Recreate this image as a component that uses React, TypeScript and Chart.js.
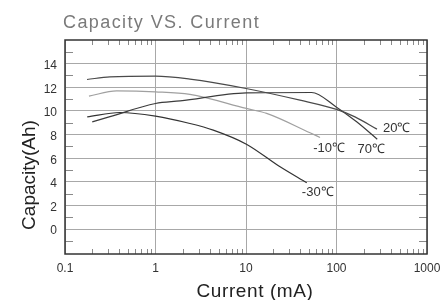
import React, { useEffect, useRef } from "react";
import { Chart, registerables } from "chart.js";

Chart.register(...registerables);

// ---- data ----
const current20 = [0.175, 0.314, 1.0, 2.4, 10, 39.5, 100, 160, 280];
const capacity20 = [12.66, 12.88, 12.94, 12.69, 11.9, 10.91, 10.13, 9.5, 8.46];

const current70 = [0.2, 0.314, 1.0, 1.87, 10.1, 53, 100, 167, 282];
const capacity70 = [9.08, 9.52, 10.63, 10.85, 11.53, 11.56, 10.32, 9.08, 7.61];

const currentM10 = [0.184, 0.372, 1.0, 2.4, 10.1, 16.9, 51, 65.8];
const capacityM10 = [11.25, 11.7, 11.62, 11.4, 10.21, 9.79, 8.15, 7.76];

const currentM30 = [0.176, 0.405, 1.0, 2.4, 4.35, 10.1, 23.8, 46.9];
const capacityM30 = [9.5, 9.87, 9.56, 8.94, 8.38, 7.19, 5.27, 3.92];

const seriesNames = ["20℃", "70℃", "-10℃", "-30℃"];
const xTickValues = [0.1, 1, 10, 100, 1000];
const xTickLabels = ["0.1", "1", "10", "100", "1000"];
const yTickValues = [0, 2, 4, 6, 8, 10, 12, 14];
const yMinorValues = [-1, 1, 3, 5, 7, 9, 11, 13, 15];

const titleText = "Capacity VS. Current";
const xTitle = "Current (mA)";
const yTitle = "Capacity(Ah)";

const FONT = "'Liberation Sans', Arial, Helvetica, sans-serif";

function pts(xs: number[], ys: number[]) {
  return xs.map((x, i) => ({ x, y: ys[i] }));
}

export default function App() {
  const ref = useRef<HTMLCanvasElement | null>(null);

  useEffect(() => {
    if (!ref.current) return;
    const labelStyle = [
      { dx: 6, dy: -1, align: "left" },
      { dx: -6, dy: 10, align: "center" },
      { dx: 9, dy: 11, align: "center" },
      { dx: 11, dy: 10, align: "center" },
    ];

    const decor = {
      id: "decor",
      afterDraw(chart: any) {
        const ctx = chart.ctx;
        const { left, right, top, bottom } = chart.chartArea;
        const xs = chart.scales.x;
        const ys = chart.scales.y;
        ctx.save();
        // minor ticks on top/bottom (log)
        ctx.strokeStyle = "#8a8a8a";
        ctx.lineWidth = 1;
        for (let k = -1; k < 3; k++) {
          for (let m = 2; m <= 9; m++) {
            const v = m * Math.pow(10, k);
            const px = Math.round(xs.getPixelForValue(v)) + 0.5;
            ctx.beginPath();
            ctx.moveTo(px, top);
            ctx.lineTo(px, top + 5);
            ctx.moveTo(px, bottom);
            ctx.lineTo(px, bottom - 5);
            ctx.stroke();
          }
        }
        // minor ticks left/right
        yMinorValues.forEach((v) => {
          const py = Math.round(ys.getPixelForValue(v)) + 0.5;
          ctx.beginPath();
          ctx.moveTo(left, py);
          ctx.lineTo(left + 8, py);
          ctx.moveTo(right, py);
          ctx.lineTo(right - 8, py);
          ctx.stroke();
        });
        // frame
        ctx.strokeStyle = "#333333";
        ctx.lineWidth = 1.5;
        ctx.strokeRect(left, top, right - left, bottom - top);

        // tick labels
        ctx.fillStyle = "#333333";
        ctx.font = `12px ${FONT}`;
        ctx.textAlign = "center";
        ctx.textBaseline = "middle";
        xTickValues.forEach((v, i) => {
          ctx.fillText(xTickLabels[i], xs.getPixelForValue(v), bottom + 15);
        });
        ctx.textAlign = "right";
        yTickValues.forEach((v) => {
          ctx.fillText(String(v), left - 8, ys.getPixelForValue(v) + 2);
        });

        // titles
        ctx.fillStyle = "#7a7a7a";
        ctx.font = `18px ${FONT}`;
        ctx.textAlign = "left";
        ctx.textBaseline = "alphabetic";
        (ctx as any).letterSpacing = "1.4px";
        ctx.fillText(titleText, left - 2, 28);
        (ctx as any).letterSpacing = "0.6px";

        ctx.fillStyle = "#222222";
        ctx.font = `19px ${FONT}`;
        ctx.textAlign = "center";
        ctx.fillText(xTitle, (left + right) / 2 + 9, 297);
        (ctx as any).letterSpacing = "0px";

        ctx.save();
        ctx.translate(35, 175);
        ctx.rotate(-Math.PI / 2);
        ctx.textAlign = "center";
        ctx.textBaseline = "alphabetic";
        ctx.fillText(yTitle, 0, 0);
        ctx.restore();

        // curve labels
        ctx.fillStyle = "#333333";
        ctx.font = `13px ${FONT}`;
        ctx.textBaseline = "middle";
        chart.data.datasets.forEach((ds: any, i: number) => {
          const last = ds.data[ds.data.length - 1];
          const px = xs.getPixelForValue(last.x);
          const py = ys.getPixelForValue(last.y);
          const st = labelStyle[i];
          ctx.textAlign = st.align;
          ctx.fillText(seriesNames[i], px + st.dx, py + st.dy);
        });
        ctx.restore();
      },
    };

    const mk = (label: string, data: any[], color: string) => ({
      label,
      data,
      borderColor: color,
      borderWidth: 1.2,
      pointRadius: 0,
      fill: false,
      cubicInterpolationMode: "monotone" as const,
    });

    const chart = new Chart(ref.current, {
      type: "line",
      data: {
        datasets: [
          mk(seriesNames[0], pts(current20, capacity20), "#4a4a4a"),
          mk(seriesNames[1], pts(current70, capacity70), "#3c3c3c"),
          mk(seriesNames[2], pts(currentM10, capacityM10), "#a0a0a0"),
          mk(seriesNames[3], pts(currentM30, capacityM30), "#333333"),
        ],
      },
      options: {
        animation: false,
        responsive: false,
        layout: { padding: { left: 65, top: 40, right: 21, bottom: 46 } },
        plugins: { legend: { display: false }, tooltip: { enabled: false } },
        scales: {
          x: {
            type: "logarithmic",
            min: 0.1,
            max: 1000,
            afterBuildTicks: (s: any) => {
              s.ticks = xTickValues.map((v) => ({ value: v }));
            },
            afterFit: (s: any) => {
              s.height = 0;
            },
            ticks: { display: false },
            grid: { color: "#a8a8a8", lineWidth: 1, drawTicks: false },
            border: { display: false },
          },
          y: {
            type: "linear",
            min: -2.1,
            max: 16,
            afterBuildTicks: (s: any) => {
              s.ticks = yTickValues.map((v) => ({ value: v }));
            },
            afterFit: (s: any) => {
              s.width = 0;
            },
            ticks: { display: false },
            grid: { color: "#a8a8a8", lineWidth: 1, drawTicks: false },
            border: { display: false },
          },
        },
      },
      plugins: [decor],
    } as any);
    return () => chart.destroy();
  }, []);

  return (
    <div style={{ position: "fixed", left: 0, top: 0, width: 448, height: 300, background: "#fff" }}>
      <canvas ref={ref} width={448} height={300} style={{ width: 448, height: 300 }} />
    </div>
  );
}
